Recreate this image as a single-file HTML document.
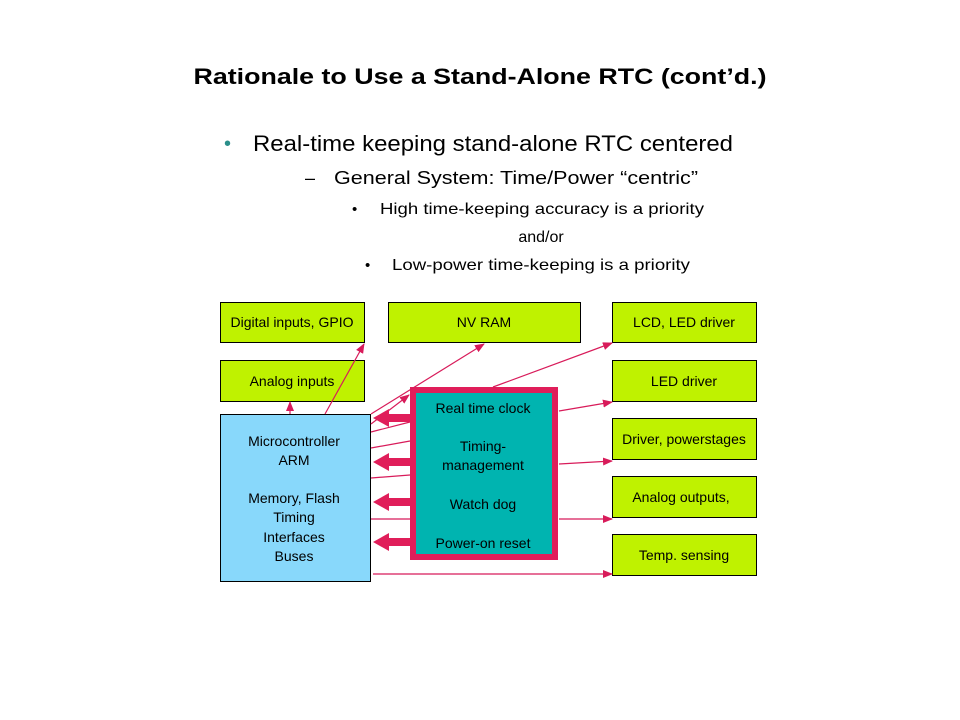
<!DOCTYPE html>
<html><head><meta charset="utf-8"><style>
html,body{margin:0;padding:0;background:#fff;}
svg{display:block;font-family:"Liberation Sans",Arial,sans-serif;}
</style></head><body>
<svg width="960" height="720" viewBox="0 0 960 720" xmlns="http://www.w3.org/2000/svg">
<defs>
<marker id="a" markerWidth="10" markerHeight="8" refX="9" refY="4" orient="auto" markerUnits="userSpaceOnUse">
<path d="M0,0 L10,4 L0,8 z" fill="#d81b5a"/></marker>
</defs>
<rect width="960" height="720" fill="#fff"/>
<text x="480" y="84" text-anchor="middle" font-size="22" font-weight="bold" textLength="573" lengthAdjust="spacingAndGlyphs">Rationale to Use a Stand-Alone RTC (cont’d.)</text>
<text x="224" y="150" font-size="20" fill="#2a8f8a">•</text>
<text x="253" y="151" font-size="22" textLength="480" lengthAdjust="spacingAndGlyphs">Real-time keeping stand-alone RTC centered</text>
<text x="305" y="184" font-size="18">–</text>
<text x="334" y="184" font-size="18" textLength="364" lengthAdjust="spacingAndGlyphs">General System:  Time/Power “centric”</text>
<text x="352" y="214" font-size="15">•</text>
<text x="380" y="214" font-size="16" textLength="324" lengthAdjust="spacingAndGlyphs">High time-keeping accuracy is a priority</text>
<text x="541" y="242" font-size="16" text-anchor="middle">and/or</text>
<text x="365" y="270" font-size="15">•</text>
<text x="392" y="270" font-size="16" textLength="298" lengthAdjust="spacingAndGlyphs">Low-power time-keeping is a priority</text>

<g stroke="#000" stroke-width="1" fill="#bff200">
<rect x="220.5" y="302.5" width="144" height="40"/>
<rect x="388.5" y="302.5" width="192" height="40"/>
<rect x="612.5" y="302.5" width="144" height="40"/>
<rect x="220.5" y="360.5" width="144" height="41"/>
<rect x="612.5" y="360.5" width="144" height="41"/>
<rect x="612.5" y="418.5" width="144" height="41"/>
<rect x="612.5" y="476.5" width="144" height="41"/>
<rect x="612.5" y="534.5" width="144" height="41"/>
</g>
<rect x="220.5" y="414.5" width="150" height="167" fill="#88d8fb" stroke="#000"/>
<rect x="413" y="390" width="142" height="167" fill="#00b4b0" stroke="#e01e5a" stroke-width="6"/>

<g font-size="14" text-anchor="middle" fill="#000">
<text x="292" y="327">Digital inputs, GPIO</text>
<text x="484" y="327">NV RAM</text>
<text x="684" y="327">LCD, LED driver</text>
<text x="292" y="386">Analog inputs</text>
<text x="684" y="386">LED driver</text>
<text x="684" y="444">Driver, powerstages</text>
<text x="681" y="502">Analog outputs,</text>
<text x="684" y="560">Temp. sensing</text>
<text x="294" y="446">Microcontroller</text>
<text x="294" y="465">ARM</text>
<text x="294" y="503">Memory, Flash</text>
<text x="294" y="522">Timing</text>
<text x="294" y="542">Interfaces</text>
<text x="294" y="561">Buses</text>
<text x="483" y="413">Real time clock</text>
<text x="483" y="451">Timing-</text>
<text x="483" y="470">management</text>
<text x="483" y="509">Watch dog</text>
<text x="483" y="548">Power-on reset</text>
</g>

<g stroke="#d81b5a" stroke-width="1.2" fill="none">
<line x1="290" y1="414" x2="290" y2="402" marker-end="url(#a)"/>
<line x1="325" y1="414" x2="364" y2="344" marker-end="url(#a)"/>
<line x1="371" y1="414" x2="484" y2="344" marker-end="url(#a)"/>
<line x1="371" y1="424" x2="409" y2="395" marker-end="url(#a)"/>
<line x1="493" y1="387" x2="612" y2="343" marker-end="url(#a)"/>
<line x1="559" y1="411" x2="612" y2="402" marker-end="url(#a)"/>
<line x1="559" y1="464" x2="612" y2="461" marker-end="url(#a)"/>
<line x1="559" y1="519" x2="612" y2="519" marker-end="url(#a)"/>
<line x1="373" y1="574" x2="612" y2="574" marker-end="url(#a)"/>
<line x1="371" y1="432" x2="410" y2="422"/>
<line x1="371" y1="448" x2="410" y2="441"/>
<line x1="371" y1="478" x2="410" y2="475"/>
<line x1="371" y1="519" x2="410" y2="519"/>
</g>
<g fill="#e01e5a">
<path d="M410,414 L389,414 L389,409 L373,418 L389,427 L389,422 L410,422 z"/>
<path d="M410,458 L389,458 L389,453 L373,462 L389,471 L389,466 L410,466 z"/>
<path d="M410,498 L389,498 L389,493 L373,502 L389,511 L389,506 L410,506 z"/>
<path d="M410,538 L389,538 L389,533 L373,542 L389,551 L389,546 L410,546 z"/>
</g>
</svg>
</body></html>
